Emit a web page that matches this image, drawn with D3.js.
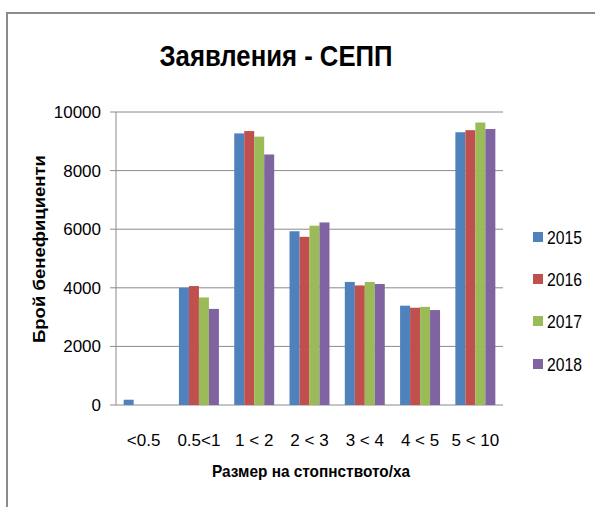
<!DOCTYPE html>
<html><head><meta charset="utf-8">
<script src="https://cdn.jsdelivr.net/npm/d3@7"></script>
<style>
html,body{margin:0;padding:0;background:#fff;}
svg{display:block;}
text{font-family:"Liberation Sans Narrow","Arial Narrow","Liberation Sans",Arial,sans-serif;fill:#000;}
</style></head>
<body>
<svg id="chart" width="595" height="507"></svg>
<script>
const categories = ["<0.5", "0.5<1", "1 < 2", "2 < 3", "3 < 4", "4 < 5", "5 < 10"];
const years = ["2015", "2016", "2017", "2018"];
const values2015 = [180, 4000, 9270, 5930, 4200, 3390, 9310];
const values2016 = [0, 4060, 9350, 5740, 4080, 3320, 9380];
const values2017 = [0, 3670, 9160, 6120, 4200, 3350, 9640];
const values2018 = [0, 3280, 8550, 6230, 4130, 3240, 9420];
const yTicks = [0, 2000, 4000, 6000, 8000, 10000];
const colors = ["#4F81BD", "#C0504D", "#9BBB59", "#8064A2"];
const titleText = "Заявления - СЕПП";
const yTitle = "Брой бенефициенти";
const xTitle = "Размер на стопнството/ха";

const series = [values2015, values2016, values2017, values2018];
const svg = d3.select("#chart");

// frame
svg.append("path").attr("d", "M7,507 V13 H595").attr("fill","none").attr("stroke","#8c8c8c").attr("stroke-width",2);

const pLeft = 116, pRight = 503, pTop = 112, pBottom = 405;
const x0 = d3.scaleBand().domain(categories).range([pLeft, pRight]);
const step = x0.step();
const gw = step * 0.723;
const x1 = d3.scaleBand().domain(years).range([(step - gw) / 2, (step + gw) / 2]);
const y = d3.scaleLinear().domain([0, 10000]).range([pBottom, pTop]);

// gridlines
svg.append("g").selectAll("line").data(yTicks).join("line")
  .attr("x1", pLeft - 6).attr("x2", pRight)
  .attr("y1", d => y(d)).attr("y2", d => y(d))
  .attr("stroke", "#8a8a8a").attr("stroke-width", 1);
// y axis line
svg.append("line").attr("x1", pLeft).attr("x2", pLeft).attr("y1", pTop).attr("y2", pBottom)
  .attr("stroke", "#8a8a8a");

// y labels
svg.append("g").selectAll("text").data(yTicks).join("text")
  .attr("x", 101).attr("y", d => y(d)).attr("dy", "0.35em")
  .attr("text-anchor", "end").attr("font-size", 17)
  .text(d => d);

// bars
const g = svg.append("g");
categories.forEach((c, ci) => {
  series.forEach((s, si) => {
    const v = s[ci];
    if (!v) return;
    g.append("rect")
      .attr("x", x0(c) + x1(years[si]))
      .attr("width", x1.bandwidth())
      .attr("y", y(v))
      .attr("height", y(0) - y(v))
      .attr("fill", colors[si]);
  });
});

// x labels
svg.append("g").selectAll("text").data(categories).join("text")
  .attr("x", d => x0(d) + step / 2).attr("y", 446)
  .attr("text-anchor", "middle").attr("font-size", 17)
  .text(d => d);

// title
svg.append("text").attr("x", 276).attr("y", 66).attr("text-anchor", "middle")
  .attr("font-size", 30).attr("font-weight", "bold")
  .attr("textLength", 233).attr("lengthAdjust", "spacingAndGlyphs")
  .text(titleText);

// x title
svg.append("text").attr("x", 311).attr("y", 477).attr("text-anchor", "middle")
  .attr("font-size", 17).attr("font-weight", "bold")
  .attr("textLength", 198).attr("lengthAdjust", "spacingAndGlyphs")
  .text(xTitle);

// y title
svg.append("text").attr("transform", "translate(45,249) rotate(-90)")
  .attr("text-anchor", "middle").attr("font-size", 17).attr("font-weight", "bold")
  .attr("textLength", 188).attr("lengthAdjust", "spacingAndGlyphs")
  .text(yTitle);

// legend
const lg = svg.append("g");
const ly = [237, 279, 321, 364];
years.forEach((yr, i) => {
  lg.append("rect").attr("x", 533).attr("y", ly[i] - 5).attr("width", 10).attr("height", 10).attr("fill", colors[i]);
  lg.append("text").attr("x", 547).attr("y", ly[i]).attr("dy", "0.35em").attr("font-size", 19)
    .attr("textLength", 35).attr("lengthAdjust", "spacingAndGlyphs").text(yr);
});
</script>
</body></html>
